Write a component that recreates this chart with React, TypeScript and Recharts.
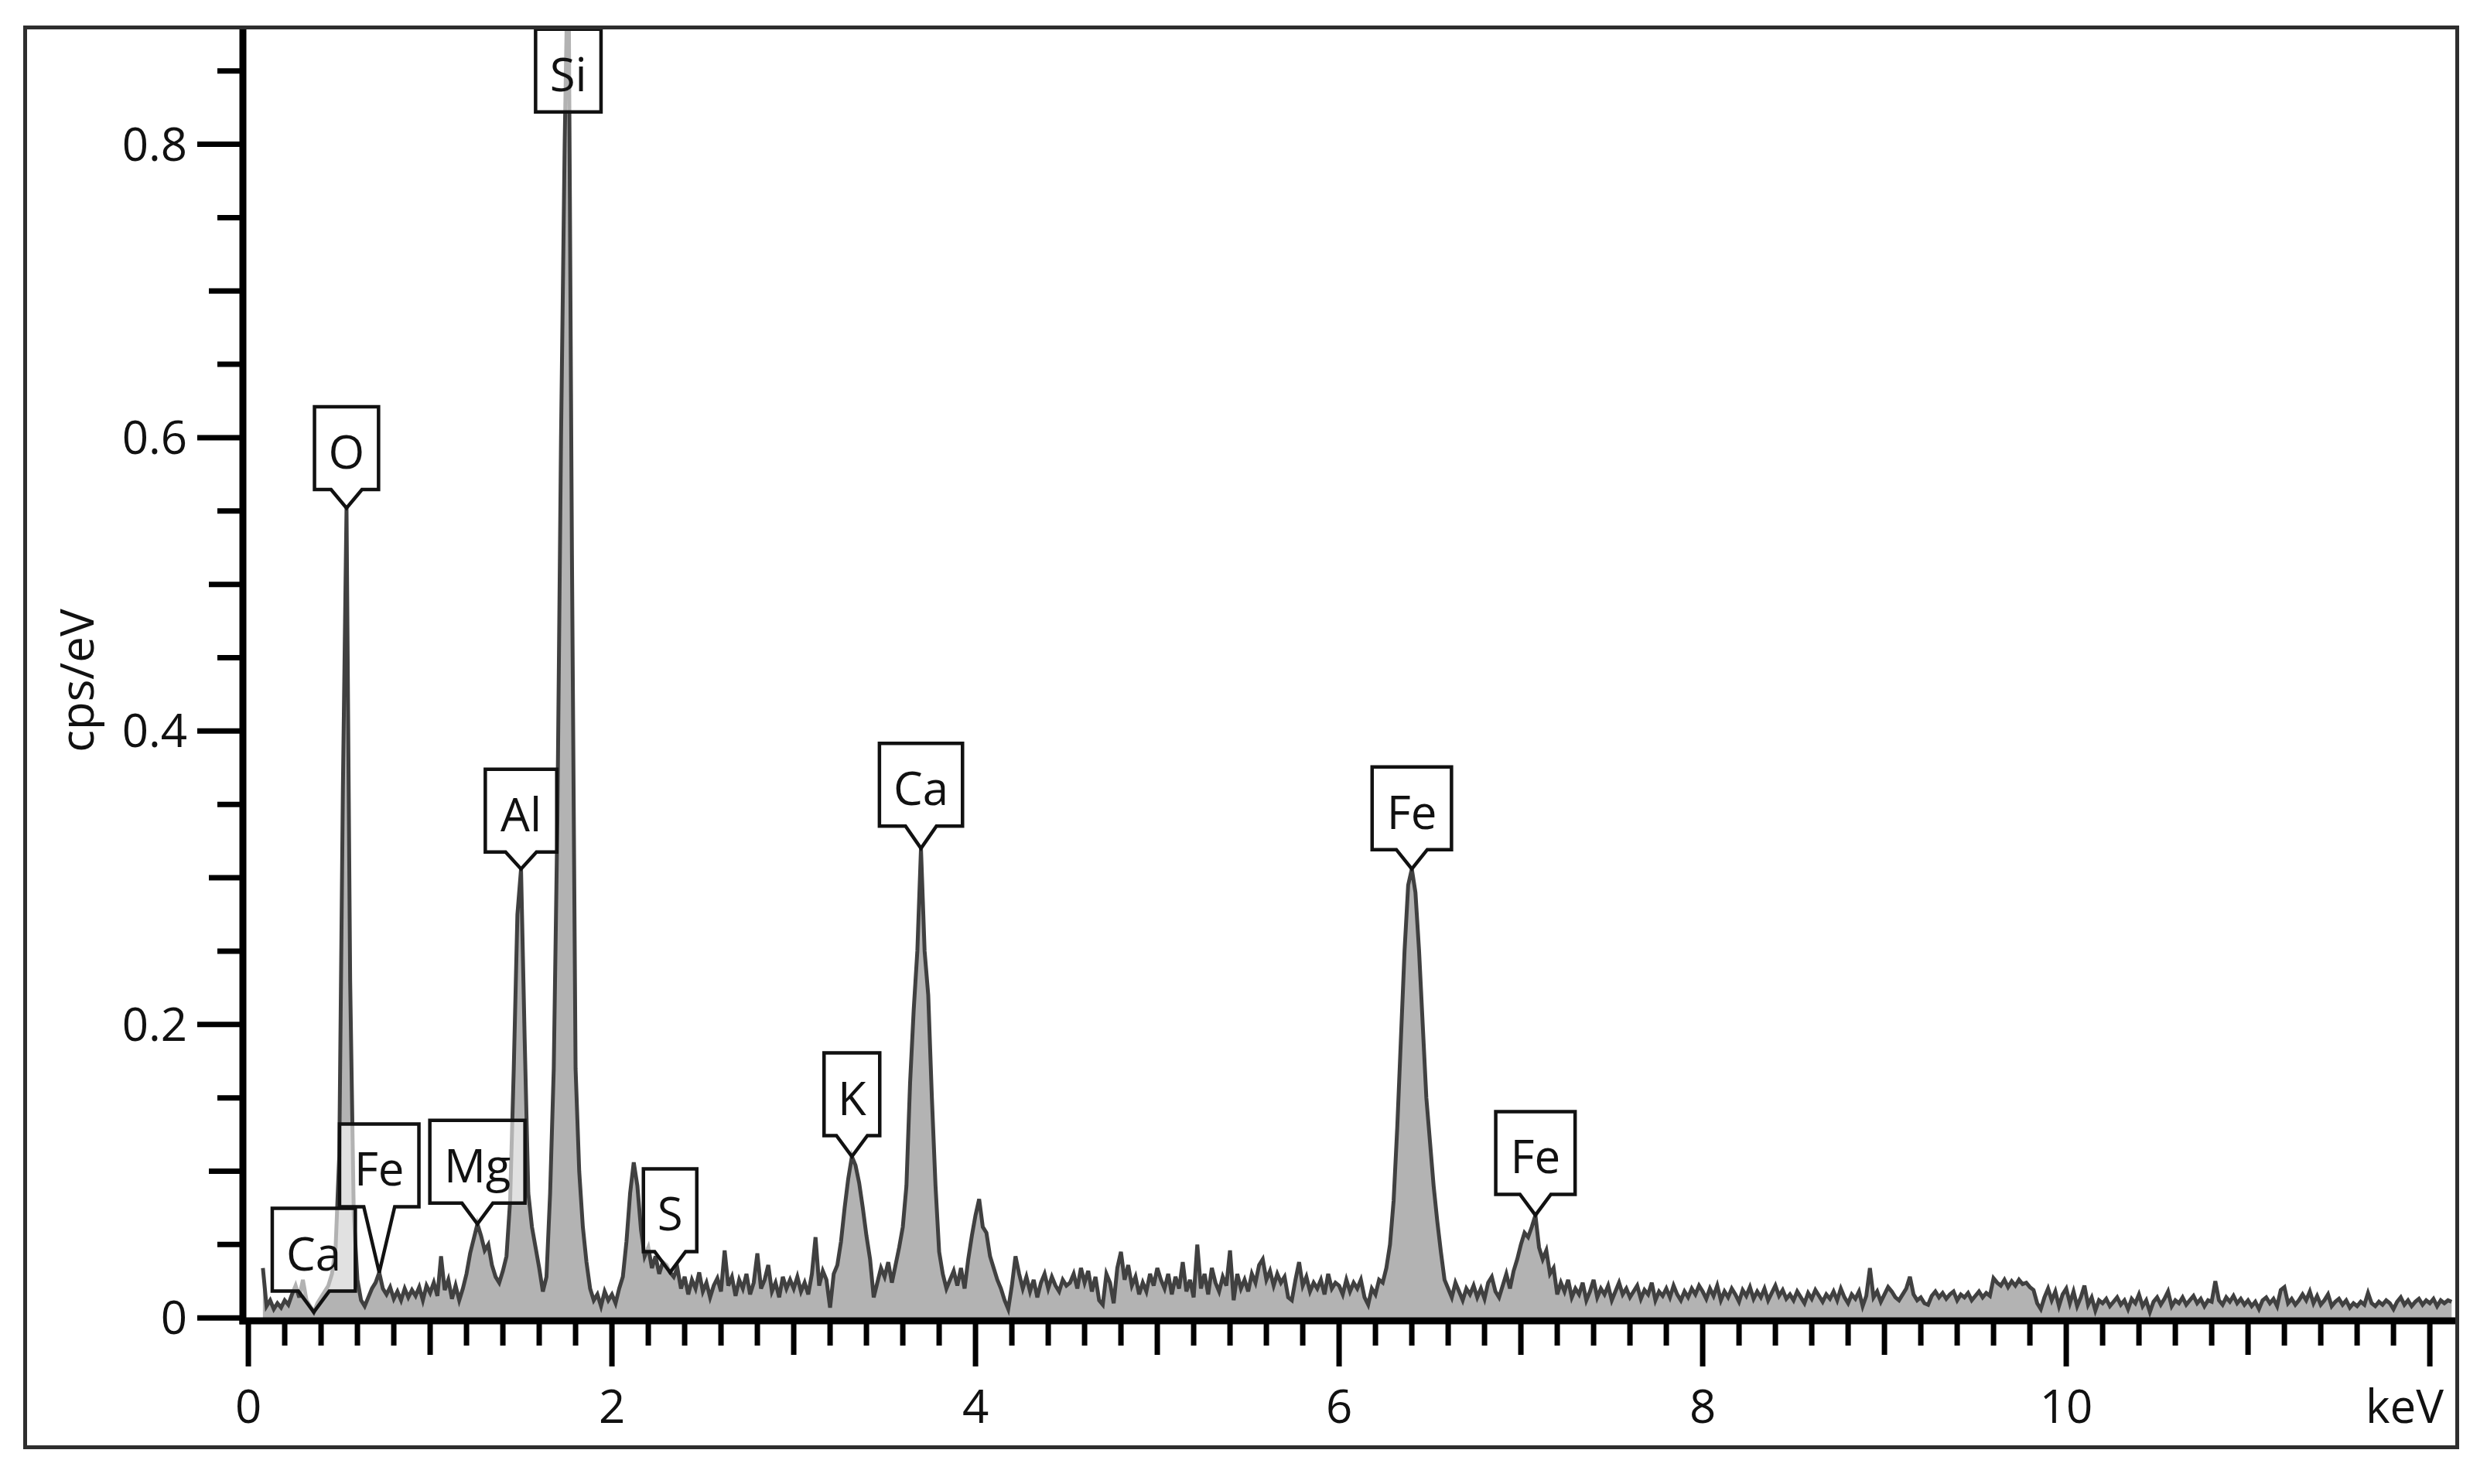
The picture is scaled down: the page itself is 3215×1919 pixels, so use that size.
import React from 'react';
import { AreaChart, Area, XAxis, YAxis, ReferenceDot } from 'recharts';

// EDS spectrum, one value per 0.02 keV channel (cps/eV)
const STEP_KEV = 0.02;

const cps0 = [
  null, null, null, null, 0.034, 0.008, 0.012, 0.006, 0.010, 0.007,
  0.012, 0.009, 0.016, 0.022, 0.014, 0.026, 0.012, 0.008, 0.004, 0.010,
  0.014, 0.018, 0.022, 0.030, 0.048, 0.110, 0.360, 0.552, 0.230, 0.070,
  0.026, 0.012, 0.008, 0.014, 0.020, 0.024, 0.031, 0.020, 0.016, 0.021,
  0.013, 0.018, 0.012, 0.020, 0.014, 0.019, 0.015, 0.021, 0.012, 0.022,
];
const cps1 = [
  0.017, 0.024, 0.015, 0.042, 0.019, 0.026, 0.013, 0.022, 0.012, 0.020,
  0.030, 0.044, 0.054, 0.064, 0.056, 0.046, 0.050, 0.036, 0.028, 0.024,
  0.032, 0.042, 0.080, 0.170, 0.275, 0.306, 0.190, 0.085, 0.062, 0.048,
  0.034, 0.018, 0.028, 0.085, 0.170, 0.340, 0.600, 0.800, 0.950, 0.520,
  0.170, 0.100, 0.062, 0.038, 0.020, 0.012, 0.016, 0.008, 0.018, 0.012,
];
const cps2 = [
  0.016, 0.010, 0.020, 0.028, 0.052, 0.085, 0.106, 0.090, 0.060, 0.042,
  0.048, 0.034, 0.042, 0.030, 0.038, 0.036, 0.031, 0.028, 0.034, 0.020,
  0.028, 0.016, 0.026, 0.020, 0.031, 0.018, 0.024, 0.014, 0.022, 0.027,
  0.018, 0.046, 0.022, 0.028, 0.015, 0.026, 0.020, 0.030, 0.016, 0.024,
  0.044, 0.020, 0.026, 0.036, 0.018, 0.024, 0.014, 0.028, 0.020, 0.026,
];
const cps3 = [
  0.020, 0.028, 0.018, 0.024, 0.016, 0.030, 0.055, 0.022, 0.032, 0.026,
  0.007, 0.030, 0.036, 0.052, 0.075, 0.095, 0.110, 0.104, 0.092, 0.075,
  0.056, 0.040, 0.014, 0.024, 0.034, 0.028, 0.038, 0.024, 0.036, 0.048,
  0.062, 0.090, 0.160, 0.210, 0.250, 0.320, 0.250, 0.220, 0.150, 0.090,
  0.045, 0.030, 0.020, 0.026, 0.032, 0.022, 0.034, 0.020, 0.040, 0.056,
];
const cps4 = [
  0.070, 0.081, 0.062, 0.058, 0.042, 0.034, 0.026, 0.020, 0.012, 0.006,
  0.022, 0.042, 0.030, 0.020, 0.028, 0.018, 0.026, 0.014, 0.024, 0.030,
  0.020, 0.028, 0.022, 0.018, 0.026, 0.022, 0.024, 0.030, 0.020, 0.034,
  0.024, 0.032, 0.018, 0.028, 0.012, 0.009, 0.030, 0.024, 0.010, 0.034,
  0.045, 0.026, 0.036, 0.022, 0.028, 0.016, 0.024, 0.018, 0.030, 0.022,
];
const cps5 = [
  0.034, 0.026, 0.020, 0.030, 0.016, 0.028, 0.020, 0.038, 0.018, 0.026,
  0.014, 0.050, 0.020, 0.030, 0.016, 0.034, 0.024, 0.018, 0.028, 0.022,
  0.046, 0.012, 0.030, 0.020, 0.026, 0.018, 0.030, 0.024, 0.036, 0.040,
  0.026, 0.032, 0.022, 0.030, 0.024, 0.028, 0.014, 0.012, 0.026, 0.038,
  0.022, 0.028, 0.018, 0.024, 0.020, 0.026, 0.016, 0.030, 0.020, 0.024,
];
const cps6 = [
  0.022, 0.016, 0.026, 0.018, 0.024, 0.020, 0.026, 0.014, 0.009, 0.020,
  0.016, 0.026, 0.024, 0.034, 0.050, 0.080, 0.130, 0.190, 0.250, 0.295,
  0.306, 0.290, 0.250, 0.200, 0.150, 0.120, 0.090, 0.066, 0.045, 0.026,
  0.020, 0.014, 0.024, 0.018, 0.012, 0.020, 0.016, 0.022, 0.014, 0.020,
  0.013, 0.024, 0.028, 0.018, 0.014, 0.022, 0.030, 0.020, 0.032, 0.040,
];
const cps7 = [
  0.050, 0.058, 0.055, 0.062, 0.070, 0.048, 0.040, 0.046, 0.030, 0.034,
  0.016, 0.024, 0.018, 0.026, 0.014, 0.020, 0.016, 0.024, 0.012, 0.018,
  0.026, 0.014, 0.020, 0.016, 0.022, 0.012, 0.018, 0.024, 0.016, 0.020,
  0.014, 0.018, 0.022, 0.013, 0.019, 0.016, 0.024, 0.012, 0.018, 0.015,
  0.020, 0.014, 0.022, 0.016, 0.012, 0.018, 0.014, 0.020, 0.016, 0.022,
];
const cps8 = [
  0.018, 0.013, 0.020, 0.015, 0.022, 0.012, 0.018, 0.014, 0.020, 0.016,
  0.011, 0.019, 0.015, 0.021, 0.013, 0.018, 0.014, 0.020, 0.012, 0.017,
  0.022, 0.015, 0.019, 0.013, 0.016, 0.012, 0.018, 0.014, 0.010, 0.017,
  0.013, 0.019, 0.015, 0.011, 0.016, 0.013, 0.018, 0.012, 0.020, 0.014,
  0.010, 0.016, 0.013, 0.018, 0.008, 0.015, 0.034, 0.014, 0.018, 0.011,
];
const cps9 = [
  0.016, 0.021, 0.018, 0.014, 0.012, 0.016, 0.020, 0.028, 0.016, 0.012,
  0.014, 0.010, 0.009, 0.015, 0.018, 0.014, 0.017, 0.013, 0.016, 0.018,
  0.012, 0.016, 0.014, 0.017, 0.012, 0.015, 0.018, 0.014, 0.017, 0.015,
  0.027, 0.024, 0.022, 0.026, 0.021, 0.025, 0.022, 0.026, 0.023, 0.024,
  0.021, 0.019, 0.010, 0.006, 0.014, 0.020, 0.012, 0.018, 0.008, 0.016,
];
const cps10 = [
  0.020, 0.010, 0.018, 0.008, 0.014, 0.022, 0.009, 0.014, 0.005, 0.012,
  0.010, 0.013, 0.008, 0.011, 0.014, 0.009, 0.012, 0.006, 0.013, 0.010,
  0.016, 0.008, 0.012, 0.004, 0.011, 0.014, 0.009, 0.013, 0.018, 0.008,
  0.012, 0.010, 0.014, 0.009, 0.012, 0.015, 0.010, 0.013, 0.008, 0.012,
  0.011, 0.025, 0.012, 0.009, 0.014, 0.011, 0.015, 0.010, 0.013, 0.009,
];
const cps11 = [
  0.012, 0.008, 0.011, 0.006, 0.012, 0.014, 0.010, 0.013, 0.008, 0.019,
  0.021, 0.010, 0.013, 0.009, 0.012, 0.016, 0.012, 0.018, 0.010, 0.015,
  0.009, 0.012, 0.016, 0.008, 0.011, 0.013, 0.009, 0.012, 0.007, 0.010,
  0.008, 0.011, 0.009, 0.017, 0.010, 0.008, 0.011, 0.009, 0.012, 0.010,
  0.006, 0.011, 0.014, 0.009, 0.012, 0.008, 0.011, 0.013, 0.009, 0.012,
];
const cps12 = [0.010, 0.013, 0.008, 0.012, 0.010, 0.012, 0.011];

const counts = [
  ...cps0, ...cps1, ...cps2, ...cps3, ...cps4, ...cps5, ...cps6,
  ...cps7, ...cps8, ...cps9, ...cps10, ...cps11, ...cps12,
];
const spectrum = counts.map((c, i) => ({ keV: +(i * STEP_KEV).toFixed(2), cps: c }));

// peak markers
const peakElements = ['Ca', 'O', 'Fe', 'Mg', 'Al', 'Si', 'S', 'K', 'Ca', 'Fe', 'Fe'];
const peakKeV = [0.36, 0.54, 0.72, 1.26, 1.5, 1.76, 2.32, 3.32, 3.7, 6.4, 7.08];
const peakCps = [0.004, 0.552, 0.031, 0.064, 0.306, 0.822, 0.031, 0.11, 0.32, 0.306, 0.07];
const TAG_STEM = [27, 24, 85, 27, 22, 0, 27, 27, 29, 25, 27];

// axes
const xTicks = Array.from({ length: 61 }, (_, i) => +(i * 0.2).toFixed(1));
const xLabelValues = [0, 2, 4, 6, 8, 10, 12];
const xLabelTexts = ['0', '2', '4', '6', '8', '10', 'keV'];
const yTicks = [0, 0.05, 0.1, 0.15, 0.2, 0.25, 0.3, 0.35, 0.4, 0.45, 0.5, 0.55, 0.6, 0.65, 0.7, 0.75, 0.8, 0.85];
const yLabelValues = [0, 0.2, 0.4, 0.6, 0.8];
const yLabelTexts = ['0', '0.2', '0.4', '0.6', '0.8'];

const FONT = "'Open Sans', 'DejaVu Sans', sans-serif";
const INK = '#111';

function XTick(props: any) {
  const { x, y, payload } = props;
  const n = Math.round(payload.value * 5);
  const len = n % 10 === 0 ? 59 : n % 5 === 0 ? 44 : 32;
  const li = xLabelValues.indexOf(+payload.value.toFixed(1));
  const isUnit = li === xLabelTexts.length - 1;
  return (
    <g>
      <line x1={x} x2={x} y1={y} y2={y + len} stroke="#000" strokeWidth={7} />
      {li >= 0 && (
        <text x={isUnit ? x + 18 : x} y={y + 132} textAnchor={isUnit ? 'end' : 'middle'} fontSize={60} fontFamily={FONT} fill={INK}>
          {xLabelTexts[li]}
        </text>
      )}
    </g>
  );
}

function YTick(props: any) {
  const { x, y, payload } = props;
  const n = Math.round(payload.value * 20);
  const len = n % 4 === 0 ? 59 : n % 2 === 0 ? 44 : 33;
  const li = yLabelValues.indexOf(+payload.value.toFixed(2));
  return (
    <g>
      <line x1={x - len} x2={x} y1={y} y2={y} stroke="#000" strokeWidth={7} />
      {li >= 0 && (
        <text x={x - 72} y={y + 21} textAnchor="end" fontSize={60} fontFamily={FONT} fill={INK}>
          {yLabelTexts[li]}
        </text>
      )}
    </g>
  );
}

const CHAR_W: Record<string, number> = {
  C: 0.63, a: 0.56, O: 0.78, F: 0.55, e: 0.56, M: 0.9, g: 0.55, A: 0.68, l: 0.26, S: 0.55, i: 0.26, K: 0.6,
};

function PeakTag({ cx, cy, text, stem }: { cx: number; cy: number; text: string; stem: number }) {
  const w = 36 + text.split('').reduce((s, c) => s + (CHAR_W[c] ?? 0.6) * 60, 0);
  const h = 107;
  const bottom = cy - stem;
  const top = bottom - h;
  const left = cx - w / 2;
  const right = cx + w / 2;
  const d = stem > 0
    ? `M${left},${top}H${right}V${bottom}H${cx + 20}L${cx},${cy}L${cx - 20},${bottom}H${left}Z`
    : `M${left},${top}H${right}V${bottom}H${left}Z`;
  return (
    <g>
      <path d={d} fill="#fff" fillOpacity={0.6} stroke={INK} strokeWidth={4.5} />
      <text x={cx} y={bottom - 27} textAnchor="middle" fontSize={60} fontFamily={FONT} fill={INK}>
        {text}
      </text>
    </g>
  );
}

export default function App() {
  return (
    <div style={{ position: 'absolute', left: 0, top: 0, width: 3215, height: 1919, background: '#fff' }}>
      <AreaChart width={3215} height={1919} data={spectrum} margin={{ top: 38, right: 45, bottom: 0, left: 0 }}>
        <XAxis
          type="number"
          dataKey="keV"
          domain={[-0.03, 12.123]}
          allowDataOverflow
          ticks={xTicks}
          interval={0}
          height={211}
          tickSize={0}
          tickMargin={0}
          tickLine={false}
          axisLine={{ stroke: '#000', strokeWidth: 9, strokeLinecap: 'square' }}
          tick={(p: any) => <XTick {...p} />}
        />
        <YAxis
          type="number"
          domain={[-0.002, 0.8783]}
          allowDataOverflow
          ticks={yTicks}
          interval={0}
          width={314}
          tickSize={0}
          tickMargin={0}
          tickLine={false}
          axisLine={{ stroke: '#000', strokeWidth: 9, strokeLinecap: 'square' }}
          tick={(p: any) => <YTick {...p} />}
        />
        <Area
          type="linear"
          dataKey="cps"
          stroke="#404040"
          strokeWidth={5}
          strokeLinejoin="miter"
          fill="#b3b3b3"
          fillOpacity={1}
          dot={false}
          activeDot={false}
          isAnimationActive={false}
        />
        {peakElements.map((el, i) => (
          <ReferenceDot
            key={i}
            x={peakKeV[i]}
            y={peakCps[i]}
            r={0}
            ifOverflow="visible"
            shape={(p: any) => <PeakTag cx={p.cx} cy={p.cy} text={el} stem={TAG_STEM[i]} />}
          />
        ))}
      </AreaChart>
      <div
        style={{
          position: 'absolute', left: 98, top: 880, transform: 'translate(-50%, -50%) rotate(-90deg)',
          fontFamily: FONT, fontSize: 60, color: INK, whiteSpace: 'nowrap', lineHeight: 1,
        }}
      >
        cps/eV
      </div>
      <div
        style={{
          position: 'absolute', left: 30, top: 33, width: 3149, height: 1841, boxSizing: 'border-box',
          border: '5px solid #2e2e2e', pointerEvents: 'none',
        }}
      />
    </div>
  );
}
